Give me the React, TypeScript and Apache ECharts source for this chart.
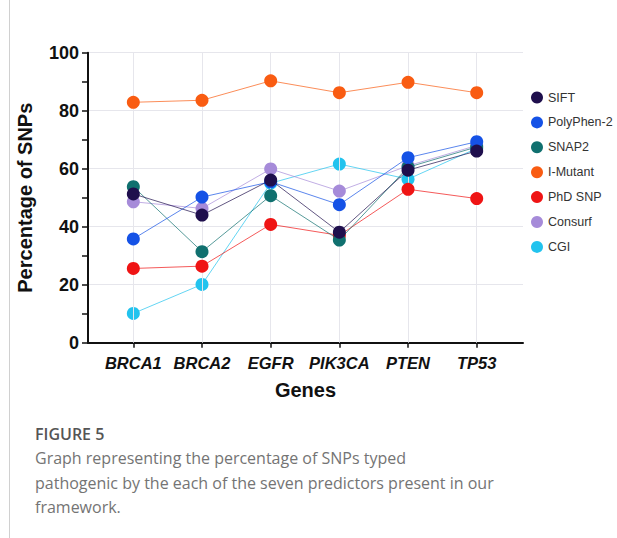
import React, { useEffect, useRef } from "react";
import * as echarts from "echarts";

const genes = ["BRCA1", "BRCA2", "EGFR", "PIK3CA", "PTEN", "TP53"];
const geneIndex = [0, 1, 2, 3, 4, 5];
const yTicks = [0, 20, 40, 60, 80, 100];

const sift = [51.3, 44.0, 56.1, 38.1, 59.5, 66.1];
const polyphen = [35.8, 50.2, 55.5, 47.6, 63.8, 69.3];
const snap2 = [53.8, 31.4, 50.7, 35.4, 60.5, 67.5];
const iMutant = [82.9, 83.6, 90.3, 86.2, 89.8, 86.2];
const phdSnp = [25.6, 26.4, 40.8, 37.0, 52.9, 49.7];
const consurf = [48.6, 46.3, 59.9, 52.3, 61.0, 68.0];
const cgi = [10.1, 20.1, 55.0, 61.6, 56.4, 67.0];

const seriesNames = ["SIFT", "PolyPhen-2", "SNAP2", "I-Mutant", "PhD SNP", "Consurf", "CGI"];
const seriesValues = [sift, polyphen, snap2, iMutant, phdSnp, consurf, cgi];
const seriesColors = ["#1f0f4d", "#1552e6", "#10706f", "#f95c12", "#ef1414", "#a68bd9", "#22c3ee"];

const captionTitle = "FIGURE 5";
const captionLines = [
  "Graph representing the percentage of SNPs typed",
  "pathogenic by the each of the seven predictors present in our",
  "framework.",
];

export default function App() {
  const ref = useRef<HTMLDivElement>(null);
  useEffect(() => {
    if (!ref.current) return;
    const chart = echarts.init(ref.current, null, { renderer: "svg" });
    const font = "'Liberation Sans', Arial, sans-serif";
    const series: any[] = seriesNames.map((name, i) => ({
      name,
      type: "line",
      data: seriesValues[i].map((v, j) => [geneIndex[j], v]),
      symbol: "circle",
      symbolSize: 13,
      z: 10 - i,
      itemStyle: { color: seriesColors[i] },
      lineStyle: { color: seriesColors[i], width: 1, opacity: 0.7 },
    }));
    series.push({
      type: "line",
      data: [],
      silent: true,
      z: 1,
      markLine: {
        silent: true,
        symbol: "none",
        label: { show: false },
        lineStyle: { color: "#e6e6ec", width: 1, type: "solid" },
        data: geneIndex.map((g) => ({ xAxis: g })),
      },
    });
    chart.setOption({
      animation: false,
      grid: { left: 88, right: 94, top: 52.7, bottom: 195.3 },
      legend: {
        data: seriesNames,
        orient: "vertical",
        left: 526,
        top: 86,
        icon: "circle",
        itemWidth: 12,
        itemHeight: 12,
        itemGap: 11.9,
        textStyle: { fontFamily: font, fontSize: 12.5, color: "#333" },
      },
      xAxis: {
        type: "value",
        min: -0.66,
        max: 5.674,
        name: "Genes",
        nameLocation: "middle",
        nameGap: 37,
        nameTextStyle: { fontFamily: font, fontSize: 20, fontWeight: "bold", color: "#111" },
        axisLine: { show: true, onZero: false, lineStyle: { color: "#111", width: 2 } },
        axisTick: { show: true, customValues: geneIndex, length: 5, lineStyle: { color: "#111", width: 1.5 } },
        axisLabel: {
          customValues: geneIndex,
          formatter: (v: number) => genes[Math.round(v)] ?? "",
          fontFamily: font,
          fontSize: 16.5,
          fontWeight: "bold",
          fontStyle: "italic",
          color: "#111",
          margin: 12,
        },
        splitLine: { show: false },
      },
      yAxis: {
        type: "value",
        min: 0,
        max: 100,
        interval: 20,
        name: "Percentage of SNPs",
        nameLocation: "middle",
        nameGap: 53,
        nameTextStyle: { fontFamily: font, fontSize: 20, fontWeight: "bold", color: "#111" },
        axisLine: { show: true, onZero: false, lineStyle: { color: "#111", width: 2 } },
        axisTick: { show: true, length: 6, lineStyle: { color: "#111", width: 1.5 } },
        minorTick: { show: true, splitNumber: 2, length: 6, lineStyle: { color: "#111", width: 1.5 } },
        axisLabel: {
          customValues: yTicks,
          fontFamily: font,
          fontSize: 18,
          fontWeight: "bold",
          color: "#111",
          margin: 9,
        },
        splitLine: { show: true, lineStyle: { color: "#e6e6ec", width: 1 } },
      },
      graphic: [
        { type: "line", shape: { x1: 9.5, y1: 0, x2: 9.5, y2: 538 }, style: { stroke: "#d0d0d0", lineWidth: 1 } },
        {
          type: "text",
          left: 35,
          top: 426,
          style: { text: captionTitle, fontFamily: "'Open Sans', sans-serif", fontSize: 16, fontWeight: 600, fill: "#555" },
        },
        ...captionLines.map((t, i) => ({
          type: "text",
          left: 35,
          top: 450 + i * 24.5,
          style: { text: t, fontFamily: "'Open Sans', sans-serif", fontSize: 16, fill: "#747474" },
        })),
      ],
      series,
    });
    return () => chart.dispose();
  }, []);
  return <div ref={ref} style={{ position: "fixed", left: 0, top: 0, width: 617, height: 538, background: "#fff" }} />;
}
